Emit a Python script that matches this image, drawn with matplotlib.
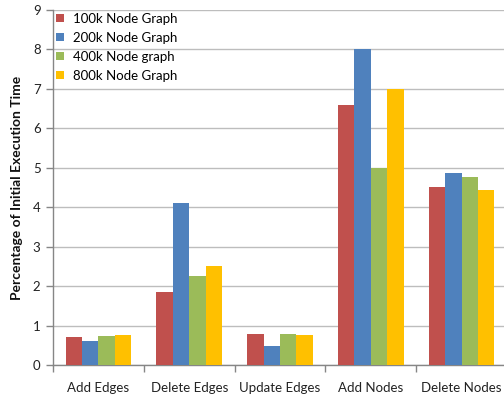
import matplotlib
matplotlib.use("Agg")
import matplotlib.pyplot as plt
import numpy as np

categories = ["Add Edges", "Delete Edges", "Update Edges", "Add Nodes", "Delete Nodes"]
series_names = ["100k Node Graph", "200k Node Graph", "400k Node graph", "800k Node Graph"]
s100k = [0.71, 1.84, 0.78, 6.60, 4.52]
s200k = [0.60, 4.10, 0.48, 8.00, 4.88]
s400k = [0.73, 2.25, 0.78, 4.99, 4.76]
s800k = [0.75, 2.51, 0.76, 6.99, 4.43]
colors = ["#C0504D", "#4F81BD", "#9BBB59", "#FFC000"]

plt.rcParams['font.family'] = ['Lato', 'DejaVu Sans']

fig = plt.figure(figsize=(5.04, 3.99), dpi=100)
ax = fig.add_axes([53/504, 34/399, 454/504, 355/399])

x = np.arange(len(categories))
w = 0.181
for i, (vals, name, c) in enumerate(zip([s100k, s200k, s400k, s800k], series_names, colors)):
    ax.bar(x + (i - 1.5) * w, vals, width=w, color=c, label=name, zorder=3)

ax.set_xlim(-0.5, len(categories) - 0.5)
ax.set_ylim(0, 9)
ax.set_yticks(range(0, 10))
ax.yaxis.grid(True, color="#BDBDBD", linewidth=1, zorder=0)
ax.set_axisbelow(True)

ax.set_xticks(x)
ax.set_xticklabels(categories, fontsize=9.5, color="#222222")
ax.set_xticks(np.arange(-0.5, len(categories), 1.0), minor=True)
ax.tick_params(axis='x', which='major', length=0, pad=12)
ax.tick_params(axis='x', which='minor', length=5, color="#868686", width=1)
ax.tick_params(axis='y', length=5, color="#868686", width=1, labelsize=9.5, labelcolor="#222222", pad=4)

for s in ["top", "right"]:
    ax.spines[s].set_visible(False)
for s in ["left", "bottom"]:
    ax.spines[s].set_color("#868686")
    ax.spines[s].set_linewidth(1)

ax.set_ylabel("Percentage of Initial Execution Time", fontsize=10, fontweight="bold", color="#111111")
ax.yaxis.set_label_coords(-0.066, 0.5)

ax.legend(loc="upper left", bbox_to_anchor=(0.0066, 0.9915), frameon=False, fontsize=9.5,
          handlelength=0.6, handleheight=0.55, handletextpad=0.7, labelspacing=0.52,
          borderaxespad=0, borderpad=0)

fig.savefig("out.png", dpi=100)
